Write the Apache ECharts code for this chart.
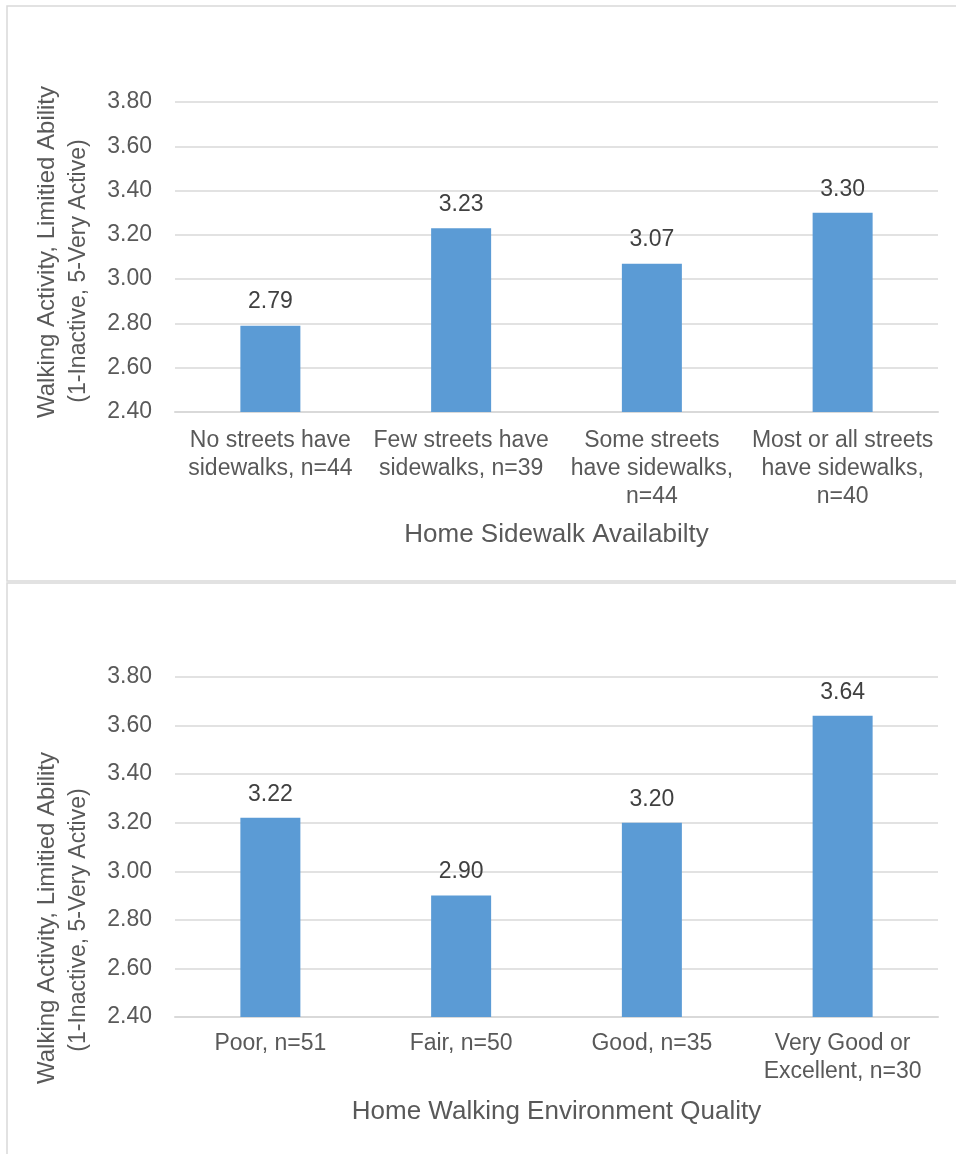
<!DOCTYPE html>
<html>
<head>
<meta charset="utf-8">
<script src="https://cdn.jsdelivr.net/npm/echarts@6/dist/echarts.min.js"></script>
<style>
html,body{margin:0;padding:0;background:#fff;}
#c{width:956px;height:1154px;}
</style>
</head>
<body>
<div id="c"></div>
<script>
var sidewalkCategories = ["No streets have\nsidewalks, n=44", "Few streets have\nsidewalks, n=39", "Some streets\nhave sidewalks,\nn=44", "Most or all streets\nhave sidewalks,\nn=40"];
var sidewalkValues = [2.79, 3.23, 3.07, 3.30];
var qualityCategories = ["Poor, n=51", "Fair, n=50", "Good, n=35", "Very Good or\nExcellent, n=30"];
var qualityValues = [3.22, 2.90, 3.20, 3.64];
var yMin = 2.4, yMax = 3.8, yStep = 0.2;
var yTitle1 = "Walking Activity, Limitied Ability";
var yTitle2 = "(1-Inactive, 5-Very Active)";
var xTitleTop = "Home Sidewalk Availabilty";
var xTitleBottom = "Home Walking Environment Quality";

var FONT = "Liberation Sans, Arial, sans-serif";
var GRAY = "#595959";
var chart = echarts.init(document.getElementById('c'), null, {renderer: 'canvas'});

function yAxisCfg(idx) {
  return {
    type: 'value', gridIndex: idx, min: yMin, max: yMax, interval: yStep,
    axisLine: {show: false}, axisTick: {show: false},
    axisLabel: {color: GRAY, fontSize: 23, fontFamily: FONT, margin: 23,
      formatter: function (v) { return v.toFixed(2); }},
    splitLine: {lineStyle: {color: '#d9d9d9', width: 1.5}}
  };
}
function xAxisCfg(idx, cats, name, gap, margin) {
  return {
    type: 'category', gridIndex: idx, data: cats,
    name: name, nameLocation: 'middle', nameGap: gap,
    nameTextStyle: {color: GRAY, fontSize: 26, fontFamily: FONT},
    axisLine: {lineStyle: {color: '#d9d9d9', width: 2}},
    axisTick: {show: false},
    axisLabel: {interval: 0, color: GRAY, fontSize: 23, fontFamily: FONT, lineHeight: 28, margin: margin}
  };
}
function barSeries(idx, vals) {
  return {
    type: 'bar', xAxisIndex: idx, yAxisIndex: idx, data: vals, barWidth: 60,
    itemStyle: {color: '#5B9BD5'},
    label: {show: true, position: 'top', distance: 12, color: '#404040', fontSize: 23, fontFamily: FONT,
      formatter: function (p) { return p.value.toFixed(2); }},
    silent: true
  };
}
function yTitle(text, x, y, size) {
  return {type: 'text', x: x, y: y, rotation: Math.PI / 2,
    style: {text: text, fill: GRAY, fontSize: size, fontFamily: FONT, align: 'center', verticalAlign: 'middle'}};
}

chart.setOption({
  animation: false,
  backgroundColor: '#ffffff',
  grid: [
    {left: 175, right: 18, top: 102, height: 310},
    {left: 175, right: 18, top: 677, height: 340}
  ],
  xAxis: [
    xAxisCfg(0, sidewalkCategories, xTitleTop, 110, 15),
    xAxisCfg(1, qualityCategories, xTitleBottom, 82, 13)
  ],
  yAxis: [yAxisCfg(0), yAxisCfg(1)],
  series: [barSeries(0, sidewalkValues), barSeries(1, qualityValues)],
  graphic: [
    {type: 'rect', shape: {x: 7, y: 6, width: 1000, height: 575}, style: {fill: 'none', stroke: '#d9d9d9', lineWidth: 1.5}, silent: true},
    {type: 'rect', shape: {x: 7, y: 583, width: 1000, height: 620}, style: {fill: 'none', stroke: '#d9d9d9', lineWidth: 1.5}, silent: true},
    yTitle(yTitle1, 47, 252, 24),
    yTitle(yTitle2, 79, 271, 23),
    yTitle(yTitle1, 47, 918, 24),
    yTitle(yTitle2, 79, 920, 23)
  ]
});
</script>
</body>
</html>
